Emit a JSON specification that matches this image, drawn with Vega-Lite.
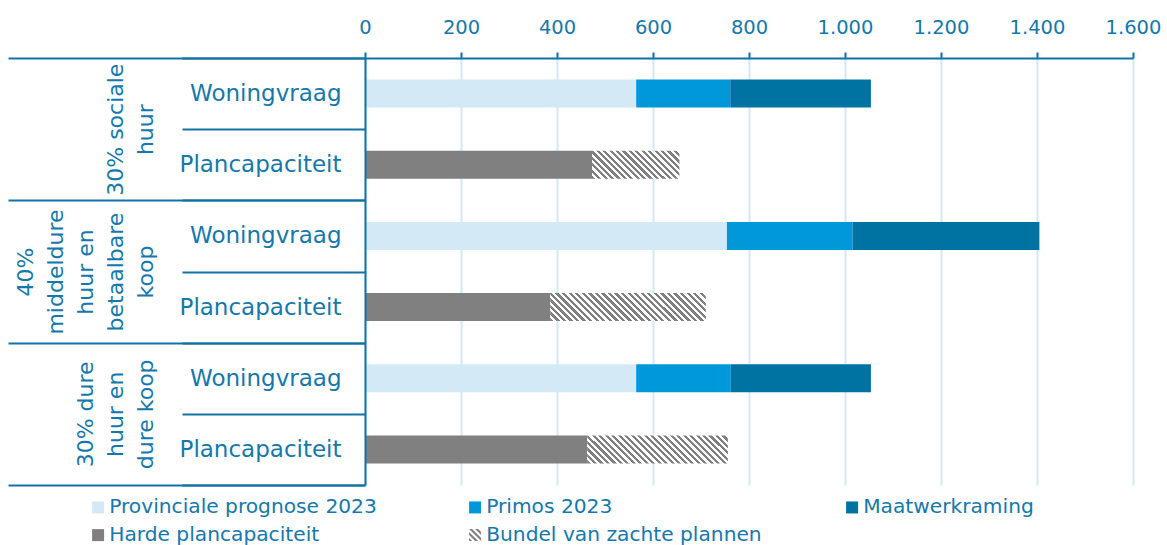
{
  "$schema": "https://vega.github.io/schema/vega-lite/v6.json",
  "width": 768,
  "height": 427,
  "autosize": "none",
  "padding": {"left": 365, "top": 58, "right": 34, "bottom": 60},
  "background": "white",
  "config": {
    "font": "DejaVu Sans",
    "view": {"stroke": null}
  },
  "data": {
    "values": [
      {"groep": "30% sociale huur", "rij": "30% sociale huur|Woningvraag", "serie": "Provinciale prognose 2023", "volgorde": 1, "waarde": 565},
      {"groep": "30% sociale huur", "rij": "30% sociale huur|Woningvraag", "serie": "Primos 2023", "volgorde": 2, "waarde": 196},
      {"groep": "30% sociale huur", "rij": "30% sociale huur|Woningvraag", "serie": "Maatwerkraming", "volgorde": 3, "waarde": 293},
      {"groep": "30% sociale huur", "rij": "30% sociale huur|Plancapaciteit", "serie": "Harde plancapaciteit", "volgorde": 4, "waarde": 473},
      {"groep": "30% sociale huur", "rij": "30% sociale huur|Plancapaciteit", "serie": "Bundel van zachte plannen", "volgorde": 5, "waarde": 182},
      {"groep": "40% middeldure huur en betaalbare koop", "rij": "40% middeldure huur en betaalbare koop|Woningvraag", "serie": "Provinciale prognose 2023", "volgorde": 1, "waarde": 754},
      {"groep": "40% middeldure huur en betaalbare koop", "rij": "40% middeldure huur en betaalbare koop|Woningvraag", "serie": "Primos 2023", "volgorde": 2, "waarde": 262},
      {"groep": "40% middeldure huur en betaalbare koop", "rij": "40% middeldure huur en betaalbare koop|Woningvraag", "serie": "Maatwerkraming", "volgorde": 3, "waarde": 389},
      {"groep": "40% middeldure huur en betaalbare koop", "rij": "40% middeldure huur en betaalbare koop|Plancapaciteit", "serie": "Harde plancapaciteit", "volgorde": 4, "waarde": 386},
      {"groep": "40% middeldure huur en betaalbare koop", "rij": "40% middeldure huur en betaalbare koop|Plancapaciteit", "serie": "Bundel van zachte plannen", "volgorde": 5, "waarde": 324},
      {"groep": "30% dure huur en dure koop", "rij": "30% dure huur en dure koop|Woningvraag", "serie": "Provinciale prognose 2023", "volgorde": 1, "waarde": 565},
      {"groep": "30% dure huur en dure koop", "rij": "30% dure huur en dure koop|Woningvraag", "serie": "Primos 2023", "volgorde": 2, "waarde": 197},
      {"groep": "30% dure huur en dure koop", "rij": "30% dure huur en dure koop|Woningvraag", "serie": "Maatwerkraming", "volgorde": 3, "waarde": 292},
      {"groep": "30% dure huur en dure koop", "rij": "30% dure huur en dure koop|Plancapaciteit", "serie": "Harde plancapaciteit", "volgorde": 4, "waarde": 463},
      {"groep": "30% dure huur en dure koop", "rij": "30% dure huur en dure koop|Plancapaciteit", "serie": "Bundel van zachte plannen", "volgorde": 5, "waarde": 293}
    ]
  },
  "layer": [
    {
      "mark": {"type": "bar", "height": {"band": 0.393}},
      "encoding": {
        "y": {
          "field": "rij", "type": "nominal", "sort": null,
          "scale": {"paddingInner": 0, "paddingOuter": 0},
          "axis": {
            "orient": "left", "title": null, "zindex": 1,
            "domainColor": "#1272a5", "domainWidth": 2,
            "tickColor": "#1272a5", "tickWidth": 2, "tickSize": 183, "tickBand": "extent",
            "labelExpr": "indexof(datum.value + '', '|') >= 0 ? split(datum.value, '|')[1] : ''",
            "labelFontSize": 23, "labelColor": "#1478ad", "labelPadding": -159,
            "labelAlign": "right", "labelBaseline": "middle", "labelLimit": 400,
            "labelOverlap": false, "labelBound": false
          }
        },
        "x": {
          "field": "waarde", "type": "quantitative", "stack": "zero",
          "scale": {"domain": [0, 1600], "nice": false},
          "axis": {
            "orient": "top", "title": null,
            "values": [0, 200, 400, 600, 800, 1000, 1200, 1400, 1600],
            "labelExpr": "replace(format(datum.value, ','), ',', '.')",
            "domainColor": "#1272a5", "domainWidth": 2,
            "tickColor": "#1272a5", "tickWidth": 2, "tickSize": 6,
            "labelFontSize": 19.5, "labelColor": "#1478ad", "labelPadding": 15,
            "labelFlush": false, "labelOverlap": false, "labelBound": false,
            "grid": true, "gridColor": "#d3e9f5", "gridWidth": 2
          }
        },
        "order": {"field": "volgorde", "type": "quantitative"},
        "color": {
          "field": "serie", "type": "nominal",
          "scale": {
            "domain": ["Provinciale prognose 2023", "Primos 2023", "Maatwerkraming", "Harde plancapaciteit", "Bundel van zachte plannen"],
            "range": ["#d3eaf6", "#0098d8", "#0073a3", "#808080", "#808080"]
          },
          "condition": [
            {
              "test": "datum.serie === 'Bundel van zachte plannen' && datum.groep === '30% sociale huur'",
              "value": {
                "gradient": "linear", "x1": 0, "y1": 1, "x2": 1.1975, "y2": 0.6164,
                "stops": [
                  {"offset": 0, "color": "grey"}, {"offset": 0.0278, "color": "grey"}, {"offset": 0.0278, "color": "white"}, {"offset": 0.0556, "color": "white"},
                  {"offset": 0.0556, "color": "grey"}, {"offset": 0.0833, "color": "grey"}, {"offset": 0.0833, "color": "white"}, {"offset": 0.1111, "color": "white"},
                  {"offset": 0.1111, "color": "grey"}, {"offset": 0.1389, "color": "grey"}, {"offset": 0.1389, "color": "white"}, {"offset": 0.1667, "color": "white"},
                  {"offset": 0.1667, "color": "grey"}, {"offset": 0.1944, "color": "grey"}, {"offset": 0.1944, "color": "white"}, {"offset": 0.2222, "color": "white"},
                  {"offset": 0.2222, "color": "grey"}, {"offset": 0.25, "color": "grey"}, {"offset": 0.25, "color": "white"}, {"offset": 0.2778, "color": "white"},
                  {"offset": 0.2778, "color": "grey"}, {"offset": 0.3056, "color": "grey"}, {"offset": 0.3056, "color": "white"}, {"offset": 0.3333, "color": "white"},
                  {"offset": 0.3333, "color": "grey"}, {"offset": 0.3611, "color": "grey"}, {"offset": 0.3611, "color": "white"}, {"offset": 0.3889, "color": "white"},
                  {"offset": 0.3889, "color": "grey"}, {"offset": 0.4167, "color": "grey"}, {"offset": 0.4167, "color": "white"}, {"offset": 0.4444, "color": "white"},
                  {"offset": 0.4444, "color": "grey"}, {"offset": 0.4722, "color": "grey"}, {"offset": 0.4722, "color": "white"}, {"offset": 0.5, "color": "white"},
                  {"offset": 0.5, "color": "grey"}, {"offset": 0.5278, "color": "grey"}, {"offset": 0.5278, "color": "white"}, {"offset": 0.5556, "color": "white"},
                  {"offset": 0.5556, "color": "grey"}, {"offset": 0.5833, "color": "grey"}, {"offset": 0.5833, "color": "white"}, {"offset": 0.6111, "color": "white"},
                  {"offset": 0.6111, "color": "grey"}, {"offset": 0.6389, "color": "grey"}, {"offset": 0.6389, "color": "white"}, {"offset": 0.6667, "color": "white"},
                  {"offset": 0.6667, "color": "grey"}, {"offset": 0.6944, "color": "grey"}, {"offset": 0.6944, "color": "white"}, {"offset": 0.7222, "color": "white"},
                  {"offset": 0.7222, "color": "grey"}, {"offset": 0.75, "color": "grey"}, {"offset": 0.75, "color": "white"}, {"offset": 0.7778, "color": "white"},
                  {"offset": 0.7778, "color": "grey"}, {"offset": 0.8056, "color": "grey"}, {"offset": 0.8056, "color": "white"}, {"offset": 0.8333, "color": "white"},
                  {"offset": 0.8333, "color": "grey"}, {"offset": 0.8611, "color": "grey"}, {"offset": 0.8611, "color": "white"}, {"offset": 0.8889, "color": "white"},
                  {"offset": 0.8889, "color": "grey"}, {"offset": 0.9167, "color": "grey"}, {"offset": 0.9167, "color": "white"}, {"offset": 0.9444, "color": "white"},
                  {"offset": 0.9444, "color": "grey"}, {"offset": 0.9722, "color": "grey"}, {"offset": 0.9722, "color": "white"}, {"offset": 1, "color": "white"}
                ]
              }
            },
            {
              "test": "datum.serie === 'Bundel van zachte plannen' && datum.groep === '40% middeldure huur en betaalbare koop'",
              "value": {
                "gradient": "linear", "x1": 0, "y1": 1, "x2": 1.143, "y2": 0.7942,
                "stops": [
                  {"offset": 0, "color": "grey"}, {"offset": 0.0179, "color": "grey"}, {"offset": 0.0179, "color": "white"}, {"offset": 0.0357, "color": "white"},
                  {"offset": 0.0357, "color": "grey"}, {"offset": 0.0536, "color": "grey"}, {"offset": 0.0536, "color": "white"}, {"offset": 0.0714, "color": "white"},
                  {"offset": 0.0714, "color": "grey"}, {"offset": 0.0893, "color": "grey"}, {"offset": 0.0893, "color": "white"}, {"offset": 0.1071, "color": "white"},
                  {"offset": 0.1071, "color": "grey"}, {"offset": 0.125, "color": "grey"}, {"offset": 0.125, "color": "white"}, {"offset": 0.1429, "color": "white"},
                  {"offset": 0.1429, "color": "grey"}, {"offset": 0.1607, "color": "grey"}, {"offset": 0.1607, "color": "white"}, {"offset": 0.1786, "color": "white"},
                  {"offset": 0.1786, "color": "grey"}, {"offset": 0.1964, "color": "grey"}, {"offset": 0.1964, "color": "white"}, {"offset": 0.2143, "color": "white"},
                  {"offset": 0.2143, "color": "grey"}, {"offset": 0.2321, "color": "grey"}, {"offset": 0.2321, "color": "white"}, {"offset": 0.25, "color": "white"},
                  {"offset": 0.25, "color": "grey"}, {"offset": 0.2679, "color": "grey"}, {"offset": 0.2679, "color": "white"}, {"offset": 0.2857, "color": "white"},
                  {"offset": 0.2857, "color": "grey"}, {"offset": 0.3036, "color": "grey"}, {"offset": 0.3036, "color": "white"}, {"offset": 0.3214, "color": "white"},
                  {"offset": 0.3214, "color": "grey"}, {"offset": 0.3393, "color": "grey"}, {"offset": 0.3393, "color": "white"}, {"offset": 0.3571, "color": "white"},
                  {"offset": 0.3571, "color": "grey"}, {"offset": 0.375, "color": "grey"}, {"offset": 0.375, "color": "white"}, {"offset": 0.3929, "color": "white"},
                  {"offset": 0.3929, "color": "grey"}, {"offset": 0.4107, "color": "grey"}, {"offset": 0.4107, "color": "white"}, {"offset": 0.4286, "color": "white"},
                  {"offset": 0.4286, "color": "grey"}, {"offset": 0.4464, "color": "grey"}, {"offset": 0.4464, "color": "white"}, {"offset": 0.4643, "color": "white"},
                  {"offset": 0.4643, "color": "grey"}, {"offset": 0.4821, "color": "grey"}, {"offset": 0.4821, "color": "white"}, {"offset": 0.5, "color": "white"},
                  {"offset": 0.5, "color": "grey"}, {"offset": 0.5179, "color": "grey"}, {"offset": 0.5179, "color": "white"}, {"offset": 0.5357, "color": "white"},
                  {"offset": 0.5357, "color": "grey"}, {"offset": 0.5536, "color": "grey"}, {"offset": 0.5536, "color": "white"}, {"offset": 0.5714, "color": "white"},
                  {"offset": 0.5714, "color": "grey"}, {"offset": 0.5893, "color": "grey"}, {"offset": 0.5893, "color": "white"}, {"offset": 0.6071, "color": "white"},
                  {"offset": 0.6071, "color": "grey"}, {"offset": 0.625, "color": "grey"}, {"offset": 0.625, "color": "white"}, {"offset": 0.6429, "color": "white"},
                  {"offset": 0.6429, "color": "grey"}, {"offset": 0.6607, "color": "grey"}, {"offset": 0.6607, "color": "white"}, {"offset": 0.6786, "color": "white"},
                  {"offset": 0.6786, "color": "grey"}, {"offset": 0.6964, "color": "grey"}, {"offset": 0.6964, "color": "white"}, {"offset": 0.7143, "color": "white"},
                  {"offset": 0.7143, "color": "grey"}, {"offset": 0.7321, "color": "grey"}, {"offset": 0.7321, "color": "white"}, {"offset": 0.75, "color": "white"},
                  {"offset": 0.75, "color": "grey"}, {"offset": 0.7679, "color": "grey"}, {"offset": 0.7679, "color": "white"}, {"offset": 0.7857, "color": "white"},
                  {"offset": 0.7857, "color": "grey"}, {"offset": 0.8036, "color": "grey"}, {"offset": 0.8036, "color": "white"}, {"offset": 0.8214, "color": "white"},
                  {"offset": 0.8214, "color": "grey"}, {"offset": 0.8393, "color": "grey"}, {"offset": 0.8393, "color": "white"}, {"offset": 0.8571, "color": "white"},
                  {"offset": 0.8571, "color": "grey"}, {"offset": 0.875, "color": "grey"}, {"offset": 0.875, "color": "white"}, {"offset": 0.8929, "color": "white"},
                  {"offset": 0.8929, "color": "grey"}, {"offset": 0.9107, "color": "grey"}, {"offset": 0.9107, "color": "white"}, {"offset": 0.9286, "color": "white"},
                  {"offset": 0.9286, "color": "grey"}, {"offset": 0.9464, "color": "grey"}, {"offset": 0.9464, "color": "white"}, {"offset": 0.9643, "color": "white"},
                  {"offset": 0.9643, "color": "grey"}, {"offset": 0.9821, "color": "grey"}, {"offset": 0.9821, "color": "white"}, {"offset": 1, "color": "white"}
                ]
              }
            },
            {
              "test": "datum.serie === 'Bundel van zachte plannen' && datum.groep === '30% dure huur en dure koop'",
              "value": {
                "gradient": "linear", "x1": 0, "y1": 1, "x2": 1.1534, "y2": 0.7703,
                "stops": [
                  {"offset": 0, "color": "grey"}, {"offset": 0.0192, "color": "grey"}, {"offset": 0.0192, "color": "white"}, {"offset": 0.0385, "color": "white"},
                  {"offset": 0.0385, "color": "grey"}, {"offset": 0.0577, "color": "grey"}, {"offset": 0.0577, "color": "white"}, {"offset": 0.0769, "color": "white"},
                  {"offset": 0.0769, "color": "grey"}, {"offset": 0.0962, "color": "grey"}, {"offset": 0.0962, "color": "white"}, {"offset": 0.1154, "color": "white"},
                  {"offset": 0.1154, "color": "grey"}, {"offset": 0.1346, "color": "grey"}, {"offset": 0.1346, "color": "white"}, {"offset": 0.1538, "color": "white"},
                  {"offset": 0.1538, "color": "grey"}, {"offset": 0.1731, "color": "grey"}, {"offset": 0.1731, "color": "white"}, {"offset": 0.1923, "color": "white"},
                  {"offset": 0.1923, "color": "grey"}, {"offset": 0.2115, "color": "grey"}, {"offset": 0.2115, "color": "white"}, {"offset": 0.2308, "color": "white"},
                  {"offset": 0.2308, "color": "grey"}, {"offset": 0.25, "color": "grey"}, {"offset": 0.25, "color": "white"}, {"offset": 0.2692, "color": "white"},
                  {"offset": 0.2692, "color": "grey"}, {"offset": 0.2885, "color": "grey"}, {"offset": 0.2885, "color": "white"}, {"offset": 0.3077, "color": "white"},
                  {"offset": 0.3077, "color": "grey"}, {"offset": 0.3269, "color": "grey"}, {"offset": 0.3269, "color": "white"}, {"offset": 0.3462, "color": "white"},
                  {"offset": 0.3462, "color": "grey"}, {"offset": 0.3654, "color": "grey"}, {"offset": 0.3654, "color": "white"}, {"offset": 0.3846, "color": "white"},
                  {"offset": 0.3846, "color": "grey"}, {"offset": 0.4038, "color": "grey"}, {"offset": 0.4038, "color": "white"}, {"offset": 0.4231, "color": "white"},
                  {"offset": 0.4231, "color": "grey"}, {"offset": 0.4423, "color": "grey"}, {"offset": 0.4423, "color": "white"}, {"offset": 0.4615, "color": "white"},
                  {"offset": 0.4615, "color": "grey"}, {"offset": 0.4808, "color": "grey"}, {"offset": 0.4808, "color": "white"}, {"offset": 0.5, "color": "white"},
                  {"offset": 0.5, "color": "grey"}, {"offset": 0.5192, "color": "grey"}, {"offset": 0.5192, "color": "white"}, {"offset": 0.5385, "color": "white"},
                  {"offset": 0.5385, "color": "grey"}, {"offset": 0.5577, "color": "grey"}, {"offset": 0.5577, "color": "white"}, {"offset": 0.5769, "color": "white"},
                  {"offset": 0.5769, "color": "grey"}, {"offset": 0.5962, "color": "grey"}, {"offset": 0.5962, "color": "white"}, {"offset": 0.6154, "color": "white"},
                  {"offset": 0.6154, "color": "grey"}, {"offset": 0.6346, "color": "grey"}, {"offset": 0.6346, "color": "white"}, {"offset": 0.6538, "color": "white"},
                  {"offset": 0.6538, "color": "grey"}, {"offset": 0.6731, "color": "grey"}, {"offset": 0.6731, "color": "white"}, {"offset": 0.6923, "color": "white"},
                  {"offset": 0.6923, "color": "grey"}, {"offset": 0.7115, "color": "grey"}, {"offset": 0.7115, "color": "white"}, {"offset": 0.7308, "color": "white"},
                  {"offset": 0.7308, "color": "grey"}, {"offset": 0.75, "color": "grey"}, {"offset": 0.75, "color": "white"}, {"offset": 0.7692, "color": "white"},
                  {"offset": 0.7692, "color": "grey"}, {"offset": 0.7885, "color": "grey"}, {"offset": 0.7885, "color": "white"}, {"offset": 0.8077, "color": "white"},
                  {"offset": 0.8077, "color": "grey"}, {"offset": 0.8269, "color": "grey"}, {"offset": 0.8269, "color": "white"}, {"offset": 0.8462, "color": "white"},
                  {"offset": 0.8462, "color": "grey"}, {"offset": 0.8654, "color": "grey"}, {"offset": 0.8654, "color": "white"}, {"offset": 0.8846, "color": "white"},
                  {"offset": 0.8846, "color": "grey"}, {"offset": 0.9038, "color": "grey"}, {"offset": 0.9038, "color": "white"}, {"offset": 0.9231, "color": "white"},
                  {"offset": 0.9231, "color": "grey"}, {"offset": 0.9423, "color": "grey"}, {"offset": 0.9423, "color": "white"}, {"offset": 0.9615, "color": "white"},
                  {"offset": 0.9615, "color": "grey"}, {"offset": 0.9808, "color": "grey"}, {"offset": 0.9808, "color": "white"}, {"offset": 1, "color": "white"}
                ]
              }
            }
          ],
          "legend": {
            "orient": "none", "legendX": -277, "legendY": 439, "direction": "horizontal",
            "title": null, "columns": 3, "gridAlign": "all", "columnPadding": 80, "rowPadding": 7,
            "padding": 0,
            "symbolType": "square", "symbolSize": 144, "symbolStrokeWidth": 0, "symbolOpacity": 1,
            "labelFontSize": 20.2, "labelColor": "#1478ad", "labelOffset": 1, "labelLimit": 400,
            "encode": {
              "symbols": {
                "update": {
                  "shape": [
                    {"test": "datum.value === 'Bundel van zachte plannen'", "value": "M-1,0.5L-0.5,1L-1,1Z M-1,-0.5L0.5,1L0,1L-1,0Z M-1,-1L-0.5,-1L1,0.5L1,1Z M0,-1L0.5,-1L1,-0.5L1,0Z"},
                    {"value": "square"}
                  ]
                }
              }
            }
          }
        }
      }
    },
    {
      "mark": {"type": "point", "opacity": 0},
      "encoding": {
        "y": {
          "field": "groep", "type": "nominal", "sort": null,
          "scale": {"paddingInner": 0, "paddingOuter": 0},
          "axis": {
            "orient": "left", "title": null, "domain": false, "zindex": 1,
            "tickColor": "#1272a5", "tickWidth": 2, "tickSize": 357, "tickBand": "extent",
            "labelExpr": "datum.value == '30% sociale huur' ? ['\u2800', '\u2800', '\u2800', '30% sociale', 'huur'] : datum.value == '40% middeldure huur en betaalbare koop' ? ['40%', 'middeldure', 'huur en', 'betaalbare', 'koop'] : datum.value == '30% dure huur en dure koop' ? ['\u2800', '\u2800', '30% dure', 'huur en', 'dure koop'] : ''",
            "labelAngle": 270, "labelAlign": "center", "labelBaseline": "alphabetic",
            "labelFontSize": 22, "labelLineHeight": 30, "labelColor": "#1478ad",
            "labelPadding": -24, "labelLimit": 500, "labelOverlap": false, "labelBound": false
          }
        },
        "x": {"field": "waarde", "type": "quantitative"}
      }
    }
  ],
  "resolve": {"scale": {"y": "independent"}, "axis": {"y": "independent"}}
}
